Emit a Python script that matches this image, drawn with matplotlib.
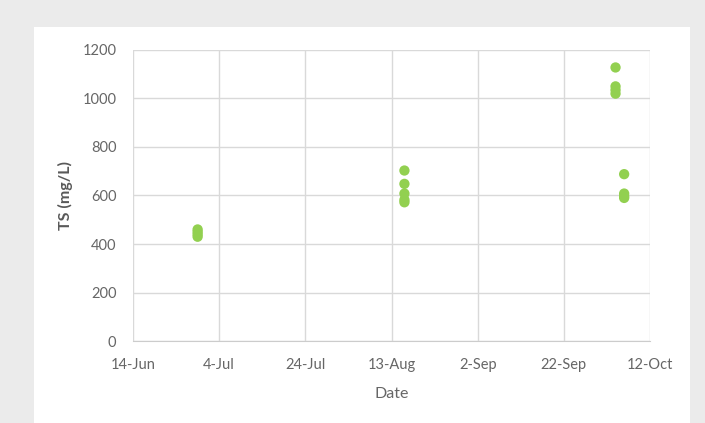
import numpy as np
import pandas as pd
import matplotlib
matplotlib.use('Agg')
import matplotlib.pyplot as plt
import matplotlib.dates as mdates
from matplotlib.patches import Rectangle

plt.rcParams['font.family'] = ['Lato', 'DejaVu Sans']

# sample dates and total solids (mg/L)
dates = ['2017-06-29'] * 4 + ['2017-08-16'] * 5 + ['2017-10-04'] * 4 + ['2017-10-06'] * 4
ts = [430, 440, 450, 460,
      703, 648, 608, 582, 572,
      1128, 1050, 1035, 1020,
      688, 608, 597, 590]
tick_dates = ['2017-06-14', '2017-07-04', '2017-07-24', '2017-08-13',
              '2017-09-02', '2017-09-22', '2017-10-12']

dates = pd.to_datetime(dates)
tick_dates = pd.to_datetime(tick_dates)

fig = plt.figure(figsize=(7.05, 4.23), dpi=100)
fig.patch.set_facecolor('#ebebeb')
fig.patches.append(Rectangle((34 / 705, 0), (690 - 34) / 705, (423 - 27) / 423,
                             transform=fig.transFigure, facecolor='white',
                             edgecolor='none', zorder=-10))

ax = fig.add_axes([133 / 705, (423 - 341) / 423, (650 - 133) / 705, (341 - 50) / 423])
ax.set_facecolor('white')
ax.scatter(dates, ts, s=55, color='#92d050', edgecolor='none', zorder=3)

ax.set_xlim(tick_dates[0], tick_dates[-1])
ax.set_ylim(0, 1200)
ax.set_xticks(tick_dates)
ax.xaxis.set_major_formatter(mdates.DateFormatter('%-d-%b'))
ax.set_yticks(np.arange(0, 1201, 200))

ax.grid(True, color='#d9d9d9', linewidth=1)
ax.set_axisbelow(True)
for side in ['top', 'right', 'left']:
    ax.spines[side].set_visible(False)
ax.spines['bottom'].set_color('#cccccc')
ax.tick_params(length=0, labelsize=10.5, colors='#666666')
ax.tick_params(axis='x', pad=12)
ax.tick_params(axis='y', pad=12)

ax.set_xlabel('Date', fontsize=11.5, color='#666666', labelpad=11)
ax.set_ylabel('TS (mg/L)', fontsize=11.5, color='#595959', fontweight='bold', labelpad=7)

fig.savefig('out.png', dpi=100, facecolor=fig.get_facecolor())
